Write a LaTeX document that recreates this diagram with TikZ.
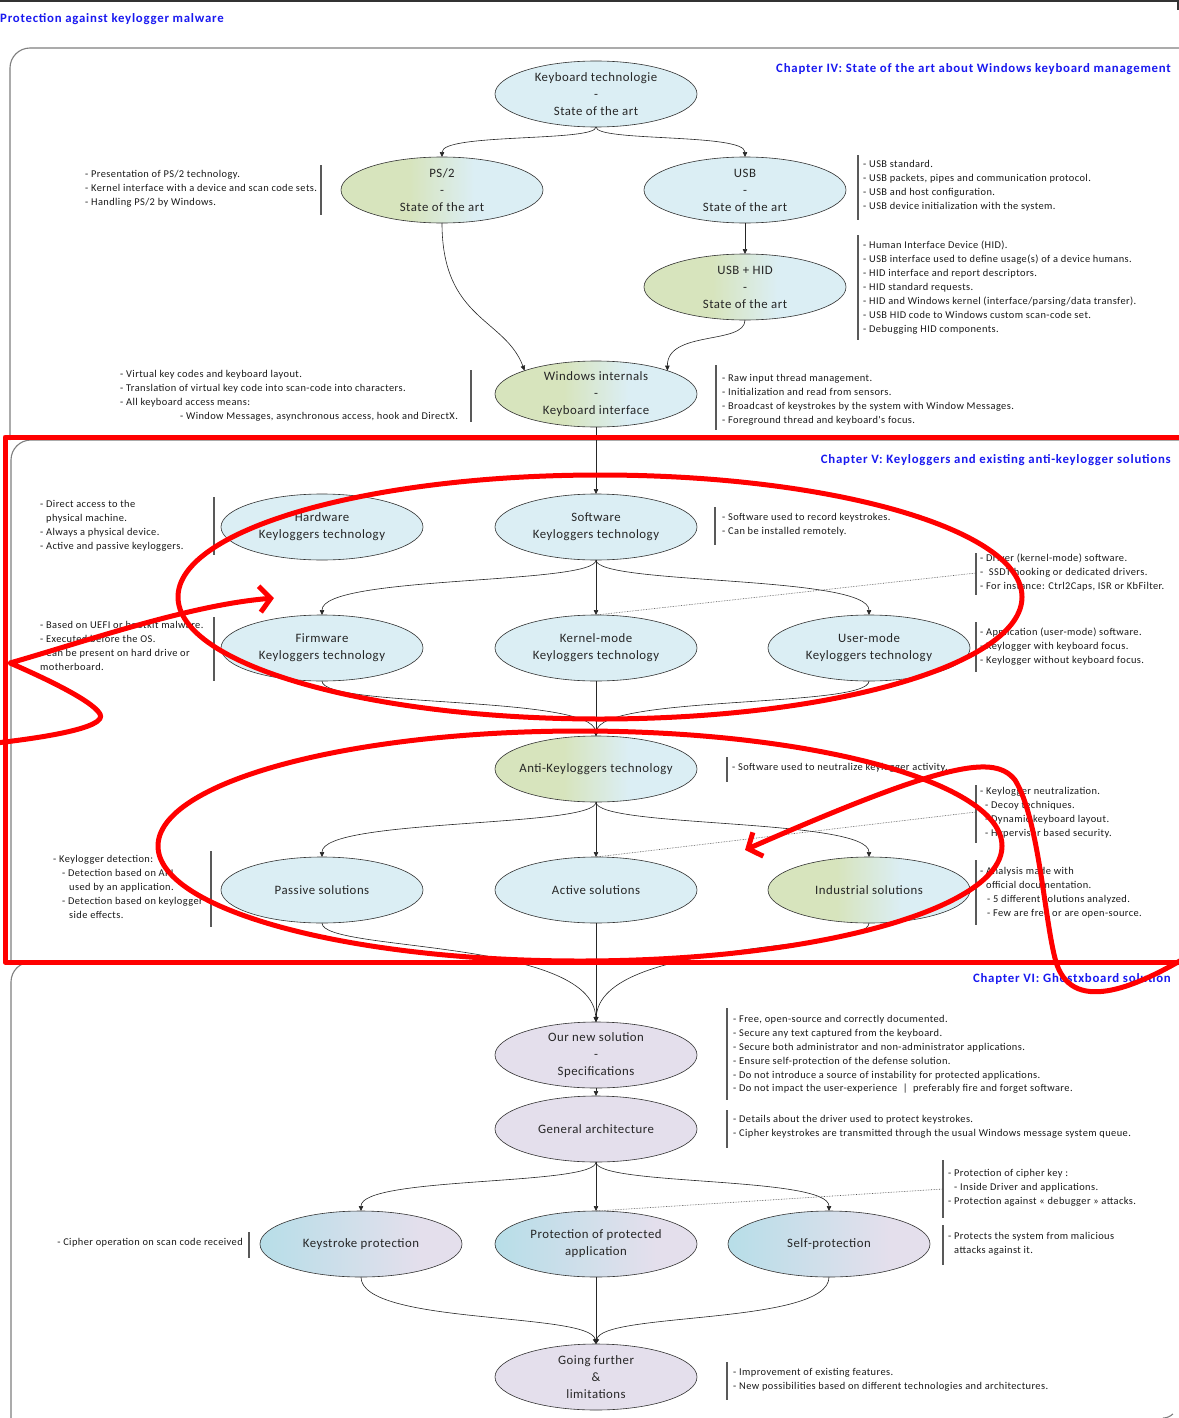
\documentclass[tikz,border=0pt]{standalone}
\usepackage{fontspec}
\setmainfont{Carlito}
\newfontfamily\nodefont[LetterSpace=4]{Carlito}
\newfontfamily\notefont[LetterSpace=4]{Carlito}
\newfontfamily\hdrfont[LetterSpace=6]{Carlito}
\usetikzlibrary{arrows.meta,shapes.geometric,calc}
\definecolor{lblue}{HTML}{DBEEF4}
\definecolor{lgreen}{HTML}{D7E4BD}
\definecolor{tblue}{HTML}{B7DEE8}
\definecolor{lav}{HTML}{E4DFEC}
\definecolor{hdrblue}{HTML}{1A1AF0}
\definecolor{panel}{HTML}{7F7F7F}
\pgfdeclarehorizontalshading{gbshade}{100bp}{color(0bp)=(lgreen); color(42bp)=(lgreen); color(58bp)=(lblue); color(100bp)=(lblue)}
\pgfdeclarehorizontalshading{blshade}{100bp}{color(0bp)=(tblue); color(25bp)=(tblue); color(65bp)=(lav); color(100bp)=(lav)}
\tikzset{
  enode/.style={ellipse, draw=black!80, line width=0.6pt, minimum width=202pt, minimum height=66pt,
    inner xsep=-20pt, inner ysep=-12pt, outer sep=0pt, align=center, text=black!85,
    font=\nodefont\fontsize{12.8}{17}\selectfont},
  bl/.style={enode, fill=lblue},
  gb/.style={enode, shading=gbshade, shading angle=0},
  lv/.style={enode, fill=lav},
  bv/.style={enode, shading=blshade, shading angle=0},
  conn/.style={draw=black!85, line width=0.6pt, -{Triangle[length=5pt,width=4.5pt]}},
  note/.style={anchor=north west, align=left, inner sep=0pt, text=black!90,
    font=\notefont\fontsize{10.4}{13.9}\selectfont},
  bar/.style={draw=black!65, line width=1.2pt},
  dots/.style={draw=black!70, line width=0.6pt, densely dotted},
  pan/.style={draw=panel, line width=1.1pt},
  hdr/.style={anchor=east, inner sep=0pt, text=hdrblue, font=\hdrfont\bfseries\fontsize{12.8}{15}\selectfont},
  redmark/.style={draw=red, line width=5pt, line cap=round, line join=round},
}
\begin{document}
\begin{tikzpicture}[x=1pt,y=-1pt]
\useasboundingbox (0,0) rectangle (1178,1418);
\fill[white] (0,0) rectangle (1178,1418);
% frame lines
\draw[draw=black!80, line width=2pt] (0,1) -- (1178,1) -- (1178,10);
\draw[pan] (10,440) -- (10,68) arc[start angle=180,end angle=90,radius=20pt] -- (1182,48);
\draw[pan] (11,962) -- (11,460) arc[start angle=180,end angle=90,radius=20pt] -- (1182,440);
\draw[pan] (11,1422) -- (11,982) arc[start angle=180,end angle=90,radius=20pt] -- (1182,962);
\draw[pan] (1163,1418) arc[start angle=-90,end angle=-45,radius=14pt];
% titles
\node[anchor=west, inner sep=0pt, text=hdrblue, font=\hdrfont\bfseries\fontsize{12.8}{15}\selectfont] (title) at (0,19) {Protection against keylogger malware};
\node[hdr] (h4) at (1171,69) {Chapter IV: State of the art about Windows keyboard management};
\node[hdr] (h5) at (1171,460) {Chapter V: Keyloggers and existing anti-keylogger solutions};
\node[hdr] (h6) at (1171,979) {Chapter VI: Ghostxboard solution};

% ---- Chapter IV nodes
\node[bl] (kb) at (596,94) {Keyboard technologie\\-\\State of the art};
\node[gb] (ps2) at (442,190) {PS/2\\-\\State of the art};
\node[bl] (usb) at (745,190) {USB\\-\\State of the art};
\node[gb] (hid) at (745,287) {USB + HID\\-\\State of the art};
\node[gb] (win) at (596,394) {Windows internals\\-\\Keyboard interface};
% ---- Chapter V nodes
\node[bl] (hw) at (322,527) {Hardware\\Keyloggers technology};
\node[bl] (sw) at (596,527) {Software\\Keyloggers technology};
\node[bl] (fw) at (322,648) {Firmware\\Keyloggers technology};
\node[bl] (km) at (596,648) {Kernel-mode\\Keyloggers technology};
\node[bl] (um) at (869,648) {User-mode\\Keyloggers technology};
\node[gb] (anti) at (596,769) {Anti-Keyloggers technology};
\node[bl] (pas) at (322,890) {Passive solutions};
\node[bl] (act) at (596,890) {Active solutions};
\node[gb] (ind) at (869,890) {Industrial solutions};
% ---- Chapter VI nodes
\node[lv] (ours) at (596,1055) {Our new solution\\-\\Specifications};
\node[lv] (gen) at (596,1129) {General architecture};
\node[bv] (ksp) at (361,1244) {Keystroke protection};
\node[bv] (ppa) at (596,1244) {Protection of protected\\application};
\node[bv] (selfp) at (829,1244) {Self-protection};
\node[lv] (gof) at (596,1377) {Going further\\\&\\limitations};

% ---- connectors
\draw[conn] (kb.south) .. controls (596,142) and (442,133) .. (ps2.north);
\draw[conn] (kb.south) .. controls (596,142) and (745,133) .. (usb.north);
\draw[conn] (usb.south) -- (hid.north);
\draw[conn] (ps2.south) .. controls (442,320) and (505,318) .. (win.north west);
\draw[conn] (hid.south) .. controls (745,345) and (667,330) .. (win.north east);
\draw[conn] (win.south) -- (sw.north);
\draw[conn] (sw.south) .. controls (596,585) and (322,575) .. (fw.north);
\draw[conn] (sw.south) -- (km.north);
\draw[conn] (sw.south) .. controls (596,585) and (869,575) .. (um.north);
\draw[conn] (fw.south) .. controls (322,708) and (592,695) .. (anti.north);
\draw[conn] (km.south) -- (anti.north);
\draw[conn] (um.south) .. controls (869,708) and (600,695) .. (anti.north);
\draw[conn] (anti.south) .. controls (596,828) and (322,818) .. (pas.north);
\draw[conn] (anti.south) -- (act.north);
\draw[conn] (anti.south) .. controls (596,828) and (869,818) .. (ind.north);
\draw[conn] (pas.south) .. controls (322,952) and (592,938) .. (ours.north);
\draw[conn] (act.south) -- (ours.north);
\draw[conn] (ind.south) .. controls (869,952) and (600,938) .. (ours.north);
\draw[conn] (ours.south) -- (gen.north);
\draw[conn] (gen.south) .. controls (596,1186) and (361,1176) .. (ksp.north);
\draw[conn] (gen.south) -- (ppa.north);
\draw[conn] (gen.south) .. controls (596,1186) and (829,1176) .. (selfp.north);
\draw[conn] (ksp.south) .. controls (361,1325) and (590,1312) .. (gof.north);
\draw[conn] (ppa.south) -- (gof.north);
\draw[conn] (selfp.south) .. controls (829,1325) and (602,1312) .. (gof.north);

% ---- notes
\node[note] (nps2) at (85,170) {- Presentation of PS/2 technology.\\- Kernel interface with a device and scan code sets.\\- Handling PS/2 by Windows.};
\draw[bar] (321,165) -- (321,215);
\node[note] (nusb) at (863,160) {- USB standard.\\- USB packets, pipes and communication protocol.\\- USB and host configuration.\\- USB device initialization with the system.};
\draw[bar] (858,155) -- (858,220);
\node[note] (nhid) at (863,241) {- Human Interface Device (HID).\\- USB interface used to define usage(s) of a device humans.\\- HID interface and report descriptors.\\- HID standard requests.\\- HID and Windows kernel (interface/parsing/data transfer).\\- USB HID code to Windows custom scan-code set.\\- Debugging HID components.};
\draw[bar] (858,235) -- (858,340);
\node[note] (nwinl) at (120,370) {- Virtual key codes and keyboard layout.\\- Translation of virtual key code into scan-code into characters.\\- All keyboard access means:\\\hspace*{60pt}- Window Messages, asynchronous access, hook and DirectX.};
\draw[bar] (471,370) -- (471,422);
\node[note] (nwinr) at (722,374) {- Raw input thread management.\\- Initialization and read from sensors.\\- Broadcast of keystrokes by the system with Window Messages.\\- Foreground thread and keyboard's focus.};
\draw[bar] (716,365) -- (716,430);
\node[note] (nhw) at (40,500) {- Direct access to the\\\hspace*{6pt}physical machine.\\- Always a physical device.\\- Active and passive keyloggers.};
\draw[bar] (214,497) -- (214,555);
\node[note] (nsw) at (722,513) {- Software used to record keystrokes.\\- Can be installed remotely.};
\draw[bar] (715,507) -- (715,545);
\node[note] (ndrv) at (980,554) {- Driver (kernel-mode) software.\\-\ \ SSDT hooking or dedicated drivers.\\- For instance: Ctrl2Caps, ISR or KbFilter.};
\draw[bar] (976,553) -- (976,595);
\coordinate (drvpt) at (976,573);
\node[note] (nfw) at (40,621) {- Based on UEFI or bootkit malware.\\- Executed before the OS.\\- Can be present on hard drive or\\motherboard.};
\draw[bar] (214,617) -- (214,681);
\node[note] (num) at (980,628) {- Application (user-mode) software.\\- Keylogger with keyboard focus.\\- Keylogger without keyboard focus.};
\draw[bar] (976,622) -- (976,672);
\node[note] (nanti) at (732,763) {- Software used to neutralize keylogger activity.};
\draw[bar] (727,757) -- (727,782);
\node[note] (nneu) at (980,787) {- Keylogger neutralization.\\\hspace*{5pt}- Decoy techniques.\\\hspace*{5pt}- Dynamic keyboard layout.\\\hspace*{5pt}- Hypervisor based security.};
\draw[bar] (976,785) -- (976,843);
\coordinate (neupt) at (976,812);
\node[note] (npas) at (53,855) {- Keylogger detection:\\\hspace*{9pt}- Detection based on API\\\hspace*{16pt}used by an application.\\\hspace*{9pt}- Detection based on keylogger\\\hspace*{16pt}side effects.};
\draw[bar] (211,851) -- (211,927);
\node[note] (nind) at (980,867) {- Analysis made with\\\hspace*{6pt}official documentation.\\\hspace*{7pt}- 5 different solutions analyzed.\\\hspace*{7pt}- Few are free or are open-source.};
\draw[bar] (976,860) -- (976,925);
\node[note] (nours) at (733,1015) {- Free, open-source and correctly documented.\\- Secure any text captured from the keyboard.\\- Secure both administrator and non-administrator applications.\\- Ensure self-protection of the defense solution.\\- Do not introduce a source of instability for protected applications.\\- Do not impact the user-experience \ \textbar\ \ preferably fire and forget software.};
\draw[bar] (727,1008) -- (727,1100);
\node[note] (ngen) at (733,1115) {- Details about the driver used to protect keystrokes.\\- Cipher keystrokes are transmitted through the usual Windows message system queue.};
\draw[bar] (727,1110) -- (727,1148);
\node[note] (nck) at (948,1169) {- Protection of cipher key :\\\hspace*{6pt}- Inside Driver and applications.\\- Protection against « debugger » attacks.};
\draw[bar] (943,1160) -- (943,1218);
\coordinate (ckpt) at (943,1189);
\node[note] (nself) at (948,1232) {- Protects the system from malicious\\\hspace*{6pt}attacks against it.};
\draw[bar] (943,1225) -- (943,1265);
\node[note, anchor=north east] (nksp) at (243,1238) {- Cipher operation on scan code received};
\draw[bar] (249,1232) -- (249,1258);
\node[note] (ngof) at (733,1368) {- Improvement of existing features.\\- New possibilities based on different technologies and architectures.};
\draw[bar] (727,1362) -- (727,1400);

% dotted links
\draw[dots] (drvpt) -- (km.north);
\draw[dots] (neupt) -- (act.north);
\draw[dots] (ckpt) -- (ppa.north);

% ---- red hand annotations
\draw[redmark] (5,437) rectangle (1190,962);
\draw[redmark] (600,597) ellipse[x radius=422pt, y radius=122pt];
\draw[redmark] (580,846) ellipse[x radius=422pt, y radius=115pt];
\draw[redmark, -{Straight Barb[length=11pt,width=26pt]}] (-4,743) .. controls (40,738) and (108,728) .. (100,714) .. controls (92,700) and (40,676) .. (10,663) .. controls (90,640) and (190,605) .. (274,598);
\draw[redmark, -{Straight Barb[length=11pt,width=26pt]}] (1190,955) .. controls (1140,985) and (1075,1015) .. (1057,965) .. controls (1045,930) and (1040,820) .. (1015,780) .. controls (995,755) and (950,760) .. (745,850);
\end{tikzpicture}
\end{document}
